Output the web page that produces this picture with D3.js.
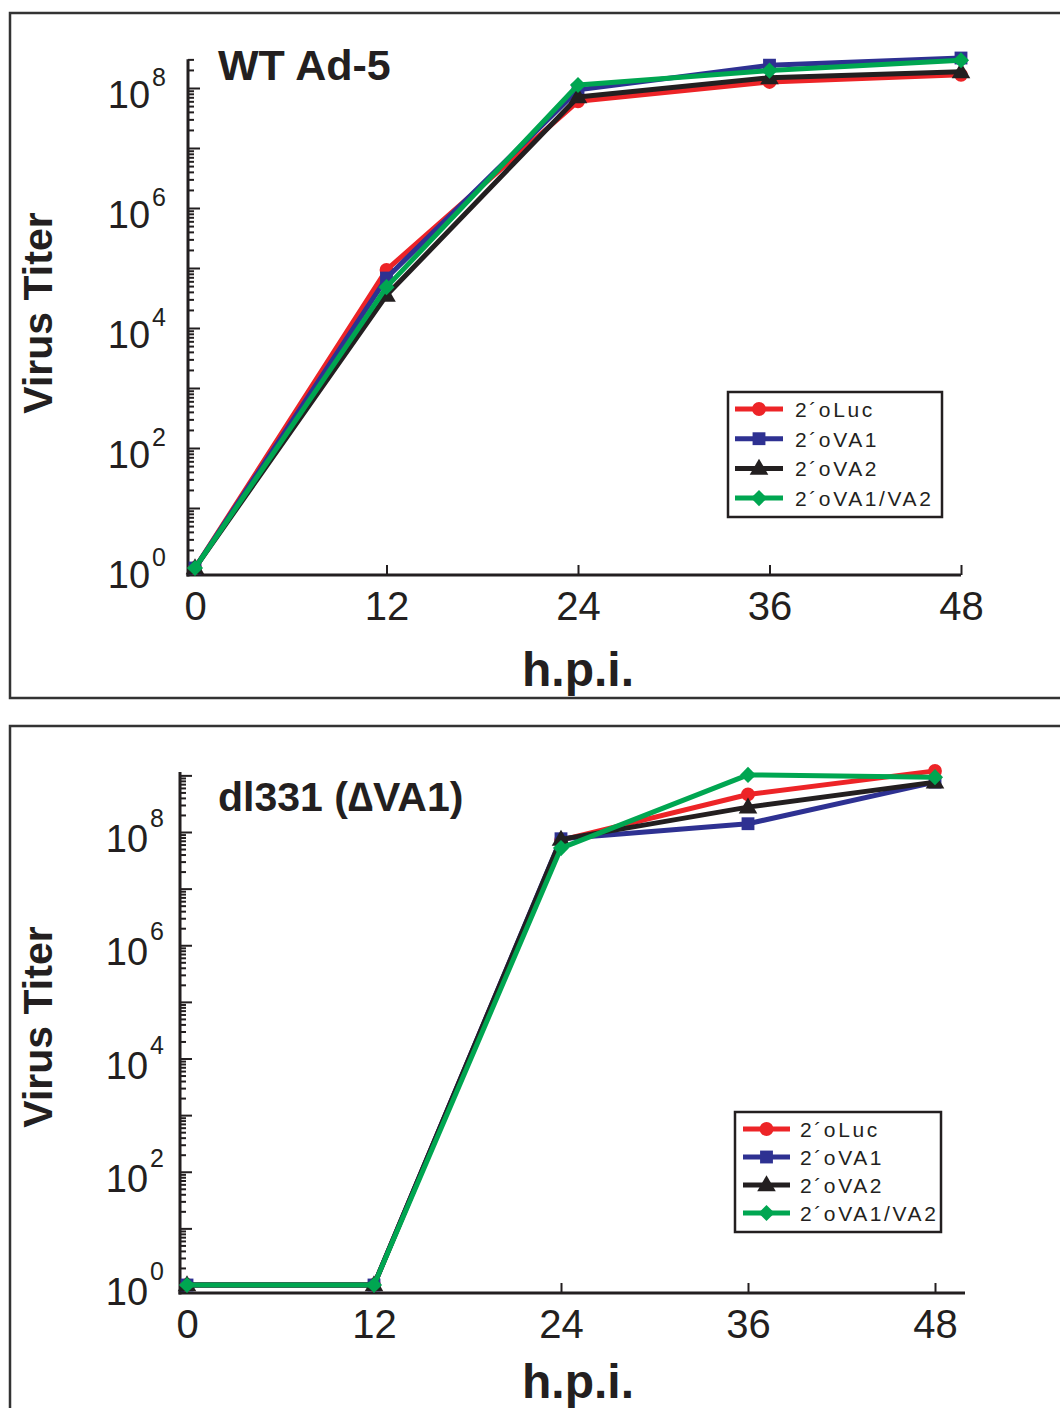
<!DOCTYPE html>
<html><head><meta charset="utf-8">
<script src="https://cdn.jsdelivr.net/npm/d3@7"></script>
<style>
body{margin:0;background:#fff;}
svg{display:block;}
</style></head>
<body>
<svg id="chart" width="1060" height="1408"></svg>
<script>
// ---------- DATA ----------
const hours = [0, 12, 24, 36, 48];
const seriesNames = ["2´oLuc", "2´oVA1", "2´oVA2", "2´oVA1/VA2"];
const seriesColors = ["#ED2427", "#2E3192", "#231F20", "#00A651"];
const seriesSymbols = ["circle", "square", "triangle", "diamond"];
const xTickLabels = [0, 12, 24, 36, 48];
const yTickExponents = [0, 2, 4, 6, 8];

// WT Ad-5 panel
const wtLuc    = [1, 9.3e4, 6.0e7, 1.26e8, 1.66e8];
const wtVA1    = [1, 6.8e4, 9.3e7, 2.4e8, 3.16e8];
const wtVA2    = [1, 3.5e4, 7.1e7, 1.48e8, 1.86e8];
const wtVA1VA2 = [1, 4.8e4, 1.12e8, 1.95e8, 2.9e8];

// dl331 panel
const dlLuc    = [1, 1, 7.2e7, 4.6e8, 1.2e9];
const dlVA1    = [1, 1, 7.6e7, 1.4e8, 7.6e8];
const dlVA2    = [1, 1, 7.4e7, 2.75e8, 7.6e8];
const dlVA1VA2 = [1, 1, 5.2e7, 1.02e9, 9.3e8];

// ---------- DRAW ----------
const svg = d3.select("#chart");

function symbolPath(kind) {
  if (kind === "circle") return d3.symbol(d3.symbolCircle, 150)();
  if (kind === "square") return d3.symbol(d3.symbolSquare, 165)();
  if (kind === "triangle") return d3.symbol(d3.symbolTriangle, 150)();
  return d3.symbol(d3.symbolSquare, 130)();
}
function symbolTransform(kind, x, y) {
  if (kind === "diamond") return `translate(${x},${y}) rotate(45)`;
  if (kind === "triangle") return `translate(${x},${y + 1})`;
  return `translate(${x},${y})`;
}

function drawPanel(p) {
  const g = svg.append("g");
  // border
  g.append("rect").attr("x", p.box[0]).attr("y", p.box[1])
    .attr("width", p.box[2]).attr("height", p.box[3])
    .attr("fill", "none").attr("stroke", "#333").attr("stroke-width", 2.5);

  const x = d3.scaleLinear().domain([0, 48]).range(p.xRange);
  const y = d3.scaleLog().domain([1, 1e8]).range(p.yRange);

  // y axis: log ticks
  const yTop = y(p.yMax), yBot = p.axisY;
  const tickVals = [];
  for (let d = -1; d <= 9; d++) for (let k = 1; k <= 9; k++) {
    const v = k * Math.pow(10, d);
    const py = y(v);
    if (py >= yTop - 0.5 && py <= yBot) tickVals.push(v);
  }
  const yAxis = d3.axisRight(y).tickValues(tickVals).tickFormat("").tickSizeOuter(0)
    .tickSizeInner(6);
  const ya = g.append("g").attr("transform", `translate(${p.axisX},0)`).call(yAxis);
  ya.select(".domain").remove();
  ya.selectAll(".tick line")
    .attr("stroke", "#231F20")
    .attr("stroke-width", 2)
    .attr("x2", d => (Math.abs(Math.log10(d) - Math.round(Math.log10(d))) < 1e-9) ? 12 : 6);
  g.append("line").attr("x1", p.axisX).attr("x2", p.axisX)
    .attr("y1", yTop).attr("y2", yBot + 1.5)
    .attr("stroke", "#231F20").attr("stroke-width", 3);

  // y labels 10^n
  yTickExponents.forEach(e => {
    const t = g.append("text")
      .attr("x", p.yLabelX).attr("y", y(Math.pow(10, e)) + 20)
      .attr("text-anchor", "end")
      .attr("font-family", "Liberation Sans, Arial, sans-serif")
      .attr("font-size", 38).attr("fill", "#231F20");
    t.append("tspan").text("10");
    t.append("tspan").attr("dy", p.supDy).attr("font-size", 25).attr("dx", 2).text(e);
  });

  // x axis
  const xAxis = d3.axisBottom(x).tickValues(xTickLabels).tickSizeInner(-10)
    .tickSizeOuter(0).tickPadding(17).tickFormat(d3.format("d"));
  const xa = g.append("g").attr("transform", `translate(0,${p.axisY})`).call(xAxis);
  xa.select(".domain").remove();
  xa.selectAll(".tick line").attr("stroke", "#231F20").attr("stroke-width", 2);
  xa.selectAll(".tick text")
    .attr("font-family", "Liberation Sans, Arial, sans-serif")
    .attr("font-size", 40).attr("fill", "#231F20");
  g.append("line").attr("x1", p.axisX - 1.5).attr("x2", p.xLineEnd)
    .attr("y1", p.axisY).attr("y2", p.axisY)
    .attr("stroke", "#231F20").attr("stroke-width", 3);

  // titles
  g.append("text").attr("x", 218).attr("y", p.titleY)
    .attr("font-family", "Liberation Sans, Arial, sans-serif")
    .attr("font-weight", "bold").attr("font-size", p.titleSize).attr("fill", "#231F20")
    .text(p.title);
  g.append("text").attr("transform", `translate(52,${p.yTitleY}) rotate(-90)`)
    .attr("text-anchor", "middle")
    .attr("font-family", "Liberation Sans, Arial, sans-serif")
    .attr("font-weight", "bold").attr("font-size", 41).attr("fill", "#231F20")
    .text("Virus Titer");
  g.append("text").attr("x", 578).attr("y", p.xTitleY)
    .attr("text-anchor", "middle")
    .attr("font-family", "Liberation Sans, Arial, sans-serif")
    .attr("font-weight", "bold").attr("font-size", 48).attr("fill", "#231F20")
    .text("h.p.i.");

  // series
  const line = d3.line().x((d, i) => x(hours[i])).y(d => y(d));
  p.series.forEach((vals, si) => {
    g.append("path").datum(vals).attr("d", line)
      .attr("fill", "none").attr("stroke", seriesColors[si])
      .attr("stroke-width", 5).attr("stroke-linejoin", "round");
    g.selectAll(null).data(vals).enter().append("path")
      .attr("d", symbolPath(seriesSymbols[si]))
      .attr("transform", (d, i) => symbolTransform(seriesSymbols[si], x(hours[i]), y(d)))
      .attr("fill", seriesColors[si]);
  });

  // legend
  const L = p.legend;
  g.append("rect").attr("x", L.x).attr("y", L.y).attr("width", L.w).attr("height", L.h)
    .attr("fill", "#fff").attr("stroke", "#231F20").attr("stroke-width", 2.5);
  seriesNames.forEach((name, si) => {
    const ry = L.y + L.firstRow + si * L.rowGap;
    g.append("line").attr("x1", L.lx1).attr("x2", L.lx2).attr("y1", ry).attr("y2", ry)
      .attr("stroke", seriesColors[si]).attr("stroke-width", 5);
    g.append("path").attr("d", symbolPath(seriesSymbols[si]))
      .attr("transform", symbolTransform(seriesSymbols[si], (L.lx1 + L.lx2) / 2, ry))
      .attr("fill", seriesColors[si]);
    g.append("text").attr("x", L.tx).attr("y", ry + 8)
      .attr("font-family", "Liberation Sans, Arial, sans-serif")
      .attr("font-size", 21).attr("letter-spacing", 2.6).attr("fill", "#231F20")
      .text(name);
  });
}

drawPanel({
  box: [10, 13, 1070, 685],
  xRange: [195, 961], yRange: [568, 88],
  axisX: 188, axisY: 575, xLineEnd: 961, yMax: 3e8,
  yLabelX: 166, supDy: -22,
  title: "WT Ad-5", titleY: 80, titleSize: 43,
  yTitleY: 313, xTitleY: 686,
  series: [wtLuc, wtVA1, wtVA2, wtVA1VA2],
  legend: {x: 728, y: 392, w: 214, h: 125, firstRow: 17, rowGap: 29.7, lx1: 735, lx2: 783, tx: 795}
});

drawPanel({
  box: [10, 726, 1070, 700],
  xRange: [187, 935], yRange: [1285, 832],
  axisX: 180, axisY: 1293, xLineEnd: 965, yMax: 1.15e9,
  yLabelX: 164, supDy: -25,
  title: "dl331 (∆VA1)", titleY: 811, titleSize: 41,
  yTitleY: 1027, xTitleY: 1398,
  series: [dlLuc, dlVA1, dlVA2, dlVA1VA2],
  legend: {x: 735, y: 1112, w: 206, h: 120, firstRow: 17, rowGap: 28, lx1: 743, lx2: 790, tx: 800}
});
</script>
</body></html>
